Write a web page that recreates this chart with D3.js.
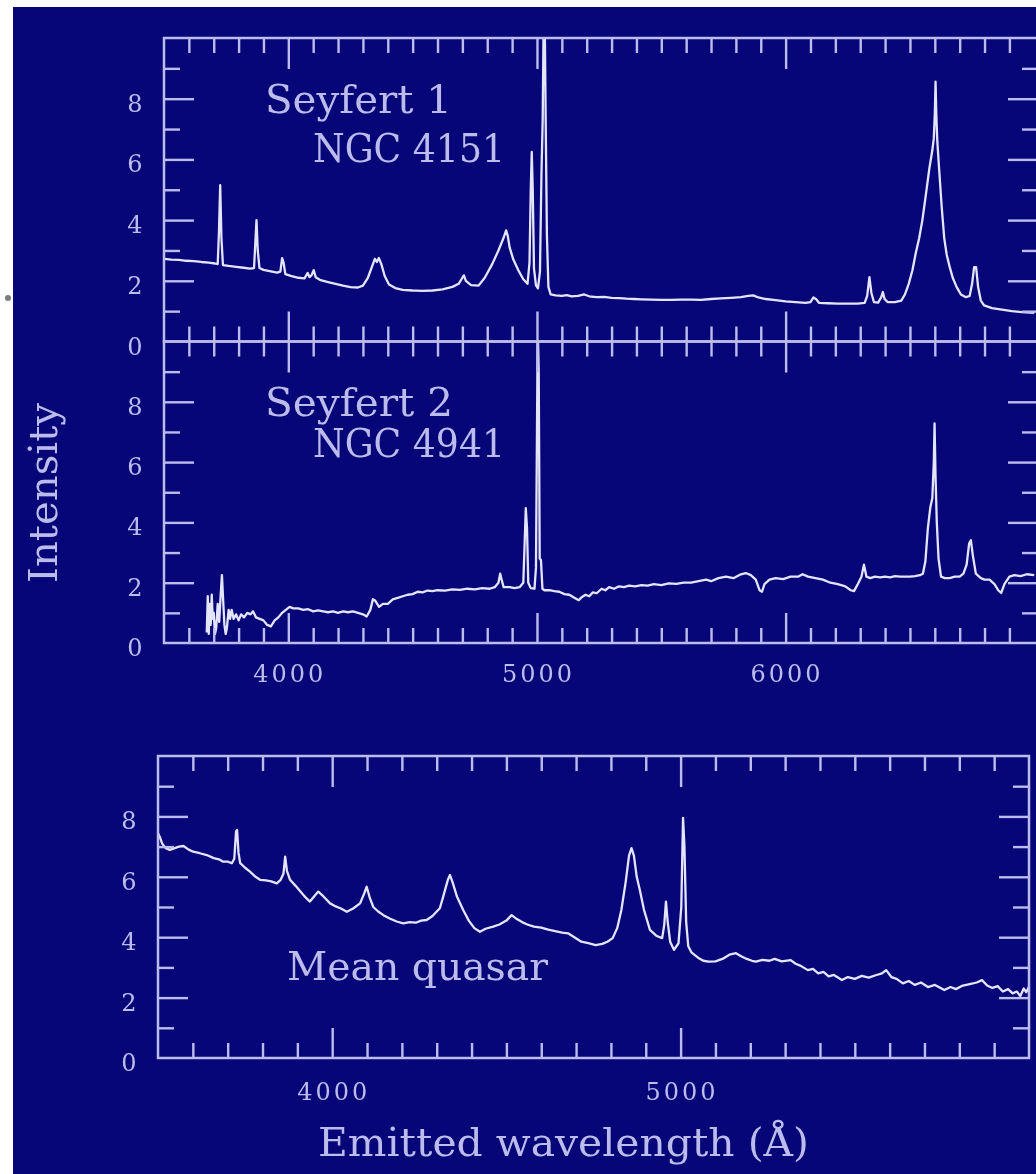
<!DOCTYPE html>
<html>
<head>
<meta charset="utf-8">
<script src="https://cdn.jsdelivr.net/npm/d3@7"></script>
<style>
  html, body { margin: 0; padding: 0; background: #fff; }
  svg { display: block; }
</style>
</head>
<body>
<svg id="chart" width="1036" height="1174"></svg>
<script>
// ---- spectra: [wavelength (Å), intensity] ----
const seyfert1 = [
  [3500,2.72],[3530,2.70],[3560,2.69],[3590,2.66],[3620,2.65],[3650,2.62],[3680,2.60],[3705,2.57],
  [3716,2.55],[3721,3.6],[3726,5.15],[3731,3.4],[3737,2.52],[3760,2.49],[3790,2.46],[3820,2.43],
  [3845,2.40],[3862,2.42],[3867,3.2],[3872,4.0],[3877,3.0],[3884,2.42],[3900,2.36],[3930,2.31],
  [3955,2.27],[3968,2.30],[3975,2.75],[3981,2.6],[3988,2.22],[4010,2.16],[4040,2.10],[4065,2.08],
  [4078,2.26],[4085,2.12],[4093,2.18],[4102,2.35],[4110,2.12],[4130,2.02],[4160,1.96],[4190,1.90],
  [4220,1.84],[4250,1.79],[4280,1.78],[4300,1.84],[4320,2.10],[4338,2.50],[4348,2.72],[4356,2.62],
  [4364,2.75],[4374,2.55],[4388,2.15],[4405,1.88],[4430,1.76],[4460,1.70],[4500,1.68],[4540,1.67],
  [4580,1.68],[4620,1.72],[4660,1.80],[4685,1.90],[4700,2.10],[4706,2.18],[4714,2.00],[4735,1.86],
  [4765,1.84],[4790,2.10],[4820,2.55],[4845,3.00],[4865,3.40],[4876,3.66],[4882,3.50],[4890,3.10],
  [4905,2.70],[4925,2.35],[4945,2.05],[4962,1.90],[4970,2.6],[4975,5.0],[4979,6.25],[4983,5.0],
  [4988,2.4],[4996,1.85],[5004,1.75],[5012,2.3],[5018,5.5],[5023,7.3],[5027,10.8],[5031,10.8],
  [5035,7.3],[5040,3.5],[5046,1.8],[5055,1.55],[5075,1.52],[5100,1.50],[5120,1.53],[5140,1.49],
  [5165,1.50],[5190,1.55],[5210,1.49],[5240,1.46],[5270,1.47],[5300,1.44],[5330,1.43],[5360,1.41],
  [5390,1.40],[5420,1.39],[5460,1.38],[5500,1.37],[5540,1.37],[5580,1.38],[5620,1.38],[5660,1.37],
  [5700,1.40],[5740,1.42],[5780,1.44],[5820,1.46],[5850,1.50],[5870,1.52],[5890,1.45],[5920,1.40],
  [5960,1.36],[6000,1.32],[6040,1.30],[6080,1.27],[6100,1.30],[6112,1.45],[6122,1.40],[6135,1.27],
  [6170,1.26],[6210,1.25],[6250,1.25],[6290,1.25],[6318,1.27],[6328,1.5],[6337,2.12],[6345,1.6],
  [6355,1.30],[6372,1.28],[6384,1.45],[6391,1.63],[6398,1.40],[6410,1.30],[6440,1.30],[6465,1.35],
  [6480,1.55],[6495,1.90],[6510,2.35],[6523,2.90],[6537,3.40],[6550,4.00],[6565,4.90],[6578,5.70],
  [6590,6.30],[6596,6.70],[6600,7.50],[6603,8.56],[6606,7.50],[6610,6.60],[6618,5.60],[6628,4.40],
  [6638,3.40],[6648,2.85],[6660,2.45],[6672,2.10],[6688,1.79],[6705,1.55],[6725,1.46],[6740,1.50],
  [6750,1.90],[6758,2.45],[6766,2.45],[6774,1.80],[6785,1.35],[6798,1.19],[6830,1.10],[6870,1.05],
  [6910,1.00],[6950,0.97],[7000,0.94]
];

const seyfert2 = [
  [3672,0.35],[3676,1.55],[3680,0.30],[3684,1.30],[3688,0.60],[3692,1.60],[3696,0.80],[3700,1.00],
  [3705,0.30],[3710,0.50],[3716,1.30],[3722,0.70],[3728,1.60],[3733,2.25],[3738,1.40],[3743,0.60],
  [3748,0.30],[3753,0.50],[3760,1.10],[3766,0.80],[3772,1.10],[3780,0.80],[3790,0.95],[3800,0.75],
  [3810,0.95],[3822,0.85],[3835,1.00],[3848,0.95],[3858,1.05],[3870,0.85],[3885,0.80],[3900,0.75],
  [3915,0.60],[3930,0.55],[3945,0.75],[3960,0.85],[3975,1.00],[3990,1.10],[4005,1.20],[4020,1.15],
  [4040,1.15],[4060,1.10],[4080,1.12],[4100,1.05],[4120,1.08],[4140,1.05],[4160,1.02],[4180,1.05],
  [4200,1.00],[4220,1.05],[4240,1.02],[4260,1.05],[4280,1.00],[4300,0.95],[4315,0.88],[4330,1.10],
  [4340,1.45],[4350,1.40],[4365,1.20],[4380,1.30],[4400,1.30],[4420,1.45],[4440,1.50],[4460,1.55],
  [4480,1.60],[4500,1.62],[4520,1.70],[4540,1.68],[4560,1.74],[4580,1.72],[4600,1.75],[4630,1.74],
  [4660,1.78],[4690,1.76],[4720,1.80],[4750,1.78],[4780,1.82],[4810,1.80],[4830,1.85],[4845,2.00],
  [4852,2.30],[4858,2.10],[4866,1.85],[4890,1.85],[4910,1.82],[4930,1.85],[4945,2.00],[4950,3.20],
  [4955,4.47],[4960,3.80],[4965,2.00],[4975,1.82],[4990,1.80],[4996,2.50],[5000,7.00],[5003,10.5],
  [5007,9.00],[5011,2.80],[5016,2.75],[5022,1.80],[5030,1.75],[5050,1.75],[5070,1.72],[5090,1.70],
  [5110,1.62],[5130,1.60],[5150,1.50],[5168,1.42],[5180,1.52],[5195,1.60],[5210,1.55],[5225,1.68],
  [5240,1.65],[5260,1.80],[5275,1.75],[5290,1.85],[5310,1.80],[5330,1.88],[5350,1.85],[5370,1.90],
  [5395,1.88],[5420,1.92],[5445,1.90],[5470,1.95],[5500,1.92],[5530,1.98],[5560,1.96],[5590,2.00],
  [5620,2.00],[5650,2.05],[5680,2.10],[5700,2.05],[5730,2.15],[5760,2.20],[5790,2.15],[5820,2.28],
  [5840,2.32],[5860,2.25],[5880,2.10],[5895,1.75],[5905,1.70],[5915,1.95],[5935,2.10],[5960,2.15],
  [5990,2.12],[6020,2.20],[6050,2.20],[6068,2.28],[6090,2.20],[6120,2.15],[6150,2.10],[6180,2.00],
  [6210,1.95],[6240,1.88],[6262,1.75],[6275,1.72],[6290,1.95],[6305,2.20],[6315,2.60],[6325,2.20],
  [6340,2.15],[6360,2.20],[6380,2.18],[6400,2.20],[6420,2.18],[6440,2.22],[6460,2.20],[6480,2.20],
  [6500,2.20],[6520,2.22],[6540,2.25],[6552,2.30],[6562,2.70],[6572,3.80],[6582,4.50],[6590,4.80],
  [6596,6.00],[6599,7.28],[6603,5.50],[6608,4.00],[6615,2.80],[6625,2.20],[6640,2.15],[6660,2.15],
  [6680,2.20],[6700,2.20],[6715,2.30],[6728,2.60],[6738,3.30],[6745,3.41],[6753,2.90],[6765,2.30],
  [6785,2.15],[6800,2.10],[6820,2.10],[6840,1.95],[6855,1.75],[6867,1.66],[6880,1.95],[6900,2.20],
  [6920,2.25],[6945,2.22],[6970,2.28],[7000,2.25]
];

const meanQuasar = [
  [3500,7.44],[3506,7.30],[3512,7.10],[3522,6.95],[3534,6.89],[3548,6.95],[3560,7.00],[3573,7.02],
  [3588,6.90],[3601,6.83],[3620,6.78],[3640,6.72],[3660,6.62],[3675,6.58],[3687,6.50],[3700,6.50],
  [3712,6.45],[3719,6.60],[3724,7.50],[3727,7.55],[3731,6.80],[3736,6.45],[3750,6.30],[3764,6.17],
  [3780,6.00],[3793,5.90],[3810,5.88],[3825,5.85],[3841,5.78],[3852,5.90],[3860,6.10],[3865,6.67],
  [3870,6.20],[3879,5.90],[3895,5.70],[3910,5.50],[3925,5.30],[3936,5.18],[3948,5.35],[3960,5.51],
  [3975,5.35],[3994,5.12],[4010,5.02],[4025,4.95],[4042,4.84],[4060,4.95],[4080,5.12],[4092,5.45],
  [4099,5.67],[4108,5.30],[4118,5.00],[4132,4.85],[4147,4.73],[4165,4.62],[4185,4.52],[4204,4.46],
  [4222,4.50],[4240,4.48],[4255,4.55],[4271,4.57],[4288,4.70],[4300,4.85],[4309,4.96],[4320,5.40],
  [4332,5.90],[4338,6.06],[4346,5.80],[4358,5.35],[4376,4.90],[4392,4.55],[4408,4.30],[4424,4.18],
  [4440,4.28],[4462,4.35],[4480,4.42],[4500,4.55],[4515,4.73],[4530,4.60],[4545,4.50],[4560,4.42],
  [4579,4.35],[4600,4.32],[4620,4.25],[4640,4.20],[4660,4.15],[4677,4.13],[4695,4.00],[4715,3.85],
  [4735,3.80],[4756,3.74],[4775,3.78],[4790,3.85],[4805,3.97],[4818,4.30],[4830,4.90],[4842,5.80],
  [4852,6.70],[4859,6.95],[4866,6.70],[4874,6.00],[4883,5.56],[4895,4.90],[4912,4.24],[4930,4.05],
  [4947,3.97],[4953,4.40],[4958,5.18],[4963,4.50],[4970,3.85],[4981,3.58],[4994,3.80],[5002,5.00],
  [5007,7.95],[5011,7.00],[5016,4.50],[5022,3.70],[5031,3.50],[5050,3.32],[5065,3.22],[5080,3.19],
  [5100,3.20],[5120,3.28],[5140,3.42],[5159,3.47],[5175,3.36],[5190,3.28],[5205,3.22],[5216,3.19],
  [5235,3.25],[5255,3.22],[5270,3.28],[5290,3.20],[5316,3.24],[5330,3.12],[5345,3.05],[5365,2.91],
  [5380,2.95],[5395,2.80],[5410,2.85],[5425,2.70],[5440,2.75],[5463,2.58],[5480,2.68],[5500,2.62],
  [5520,2.72],[5540,2.66],[5560,2.74],[5578,2.80],[5590,2.91],[5605,2.68],[5620,2.62],[5638,2.47],
  [5655,2.55],[5672,2.42],[5690,2.50],[5710,2.35],[5730,2.42],[5757,2.25],[5775,2.35],[5790,2.28],
  [5810,2.40],[5830,2.45],[5850,2.50],[5865,2.58],[5880,2.40],[5895,2.32],[5910,2.38],[5925,2.20],
  [5940,2.28],[5953,2.14],[5965,2.20],[5975,2.05],[5985,2.30],[5992,2.18],[6000,2.36]
];

// ---- axis values and text ----
const intensityLabels = [0, 2, 4, 6, 8];
const wavelengthLabelsOptical = [4000, 5000, 6000];
const wavelengthLabelsQuasar = [4000, 5000];
const seyfert1Label = ["Seyfert 1", "NGC 4151"];
const seyfert2Label = ["Seyfert 2", "NGC 4941"];
const quasarLabel = ["Mean quasar"];
const yTitle = "Intensity";
const xTitle = "Emitted wavelength (Å)";

// ---- styling ----
const BG = "#060679";
const INK = "#bcbcec";
const TRACE = "#e4e4fb";
const FONT = "'DejaVu Serif', 'Liberation Serif', serif";

const svg = d3.select("#chart");
svg.append("rect").attr("width", 1036).attr("height", 1174).attr("fill", "#ffffff");
svg.append("rect").attr("x", 13).attr("y", 7).attr("width", 1023).attr("height", 1167).attr("fill", BG);
svg.append("circle").attr("cx", 8).attr("cy", 298).attr("r", 3).attr("fill", "#7c7c7c");

const defs = svg.append("defs");
defs.append("filter").attr("id", "soft")
  .attr("x", "-5%").attr("y", "-5%").attr("width", "110%").attr("height", "110%")
  .append("feGaussianBlur").attr("stdDeviation", 0.75);

const root = svg.append("g").attr("filter", "url(#soft)");

const panels = [
  { id: "p1", data: seyfert1, wl: [3500, 7015], x0: 164, x1: 1038, y0: 38,  y1: 341.5,
    label: seyfert1Label, labelPos: [[265, 113, 187], [313, 162, 192]], xLabels: null },
  { id: "p2", data: seyfert2, wl: [3500, 7015], x0: 164, x1: 1038, y0: 341.5, y1: 643,
    label: seyfert2Label, labelPos: [[265, 416, 188], [313, 457, 192]], xLabels: wavelengthLabelsOptical, xLabelY: 682 },
  { id: "p3", data: meanQuasar, wl: [3500, 6000], x0: 158, x1: 1029, y0: 756, y1: 1058,
    label: quasarLabel, labelPos: [[287, 980, 261]], xLabels: wavelengthLabelsQuasar, xLabelY: 1100 }
];

function tidy(sel) {
  sel.select(".domain").remove();
  sel.selectAll("text").remove();
  sel.selectAll("line").attr("stroke", INK).attr("stroke-width", 2.4);
}

panels.forEach(p => {
  const x = d3.scaleLinear().domain(p.wl).range([p.x0, p.x1]);
  const y = d3.scaleLinear().domain([0, 10]).range([p.y1, p.y0]);
  const gp = root.append("g");

  const wlMax = Math.min(p.wl[1], 7000);
  const minorX = d3.range(3600, wlMax, 100).filter(v => v % 1000 !== 0);
  const majorX = d3.range(4000, wlMax, 1000);
  const minorY = [1, 3, 5, 7, 9];
  const majorY = [2, 4, 6, 8];

  // spectrum, clipped to the plot box
  defs.append("clipPath").attr("id", "clip-" + p.id)
    .append("rect").attr("x", p.x0).attr("y", p.y0)
    .attr("width", p.x1 - p.x0).attr("height", p.y1 - p.y0);

  const line = d3.line().x(d => x(d[0])).y(d => y(d[1]));
  gp.append("path").datum(p.data)
    .attr("clip-path", `url(#clip-${p.id})`)
    .attr("d", line)
    .attr("fill", "none")
    .attr("stroke", TRACE)
    .attr("stroke-width", 2.3)
    .attr("stroke-linejoin", "round");

  // inward ticks on all four sides
  const axes = [
    [d3.axisBottom, x, minorX, -15, `translate(0,${p.y1})`],
    [d3.axisBottom, x, majorX, -30, `translate(0,${p.y1})`],
    [d3.axisTop,    x, minorX, -15, `translate(0,${p.y0})`],
    [d3.axisTop,    x, majorX, -31, `translate(0,${p.y0})`],
    [d3.axisLeft,   y, minorY, -16, `translate(${p.x0},0)`],
    [d3.axisLeft,   y, majorY, -30, `translate(${p.x0},0)`],
    [d3.axisRight,  y, minorY, -16, `translate(${p.x1},0)`],
    [d3.axisRight,  y, majorY, -30, `translate(${p.x1},0)`]
  ];
  axes.forEach(([maker, scale, vals, size, tr]) => {
    gp.append("g").attr("transform", tr)
      .call(maker(scale).tickValues(vals).tickSize(size).tickSizeOuter(0).tickFormat(""))
      .call(tidy);
  });

  // frame
  gp.append("rect")
    .attr("x", p.x0).attr("y", p.y0)
    .attr("width", p.x1 - p.x0).attr("height", p.y1 - p.y0)
    .attr("fill", "none").attr("stroke", INK).attr("stroke-width", 2.5);

  // intensity tick labels
  gp.selectAll(".ylab").data(intensityLabels).enter().append("text")
    .attr("x", p.x0 - 29)
    .attr("y", d => y(d) + 13)
    .attr("text-anchor", "middle")
    .attr("font-family", FONT).attr("font-size", 24)
    .attr("fill", INK)
    .text(d => d);

  // wavelength tick labels
  if (p.xLabels) {
    gp.selectAll(".xlab").data(p.xLabels).enter().append("text")
      .attr("x", d => x(d))
      .attr("y", p.xLabelY)
      .attr("text-anchor", "middle")
      .attr("textLength", 70).attr("lengthAdjust", "spacing")
      .attr("font-family", FONT).attr("font-size", 24)
      .attr("fill", INK)
      .text(d => d);
  }

  // panel caption
  p.label.forEach((t, i) => {
    const [lx, ly, len] = p.labelPos[i];
    gp.append("text")
      .attr("x", lx).attr("y", ly)
      .attr("textLength", len).attr("lengthAdjust", "spacingAndGlyphs")
      .attr("font-family", FONT).attr("font-size", 40)
      .attr("fill", INK)
      .text(t);
  });
});

// axis titles
root.append("text")
  .attr("transform", "translate(57,493) rotate(-90)")
  .attr("text-anchor", "middle")
  .attr("textLength", 180).attr("lengthAdjust", "spacingAndGlyphs")
  .attr("font-family", FONT).attr("font-size", 40)
  .attr("fill", INK)
  .text(yTitle);

root.append("text")
  .attr("x", 318).attr("y", 1156)
  .attr("textLength", 491).attr("lengthAdjust", "spacingAndGlyphs")
  .attr("font-family", FONT).attr("font-size", 40)
  .attr("fill", INK)
  .text(xTitle);
</script>
</body>
</html>
